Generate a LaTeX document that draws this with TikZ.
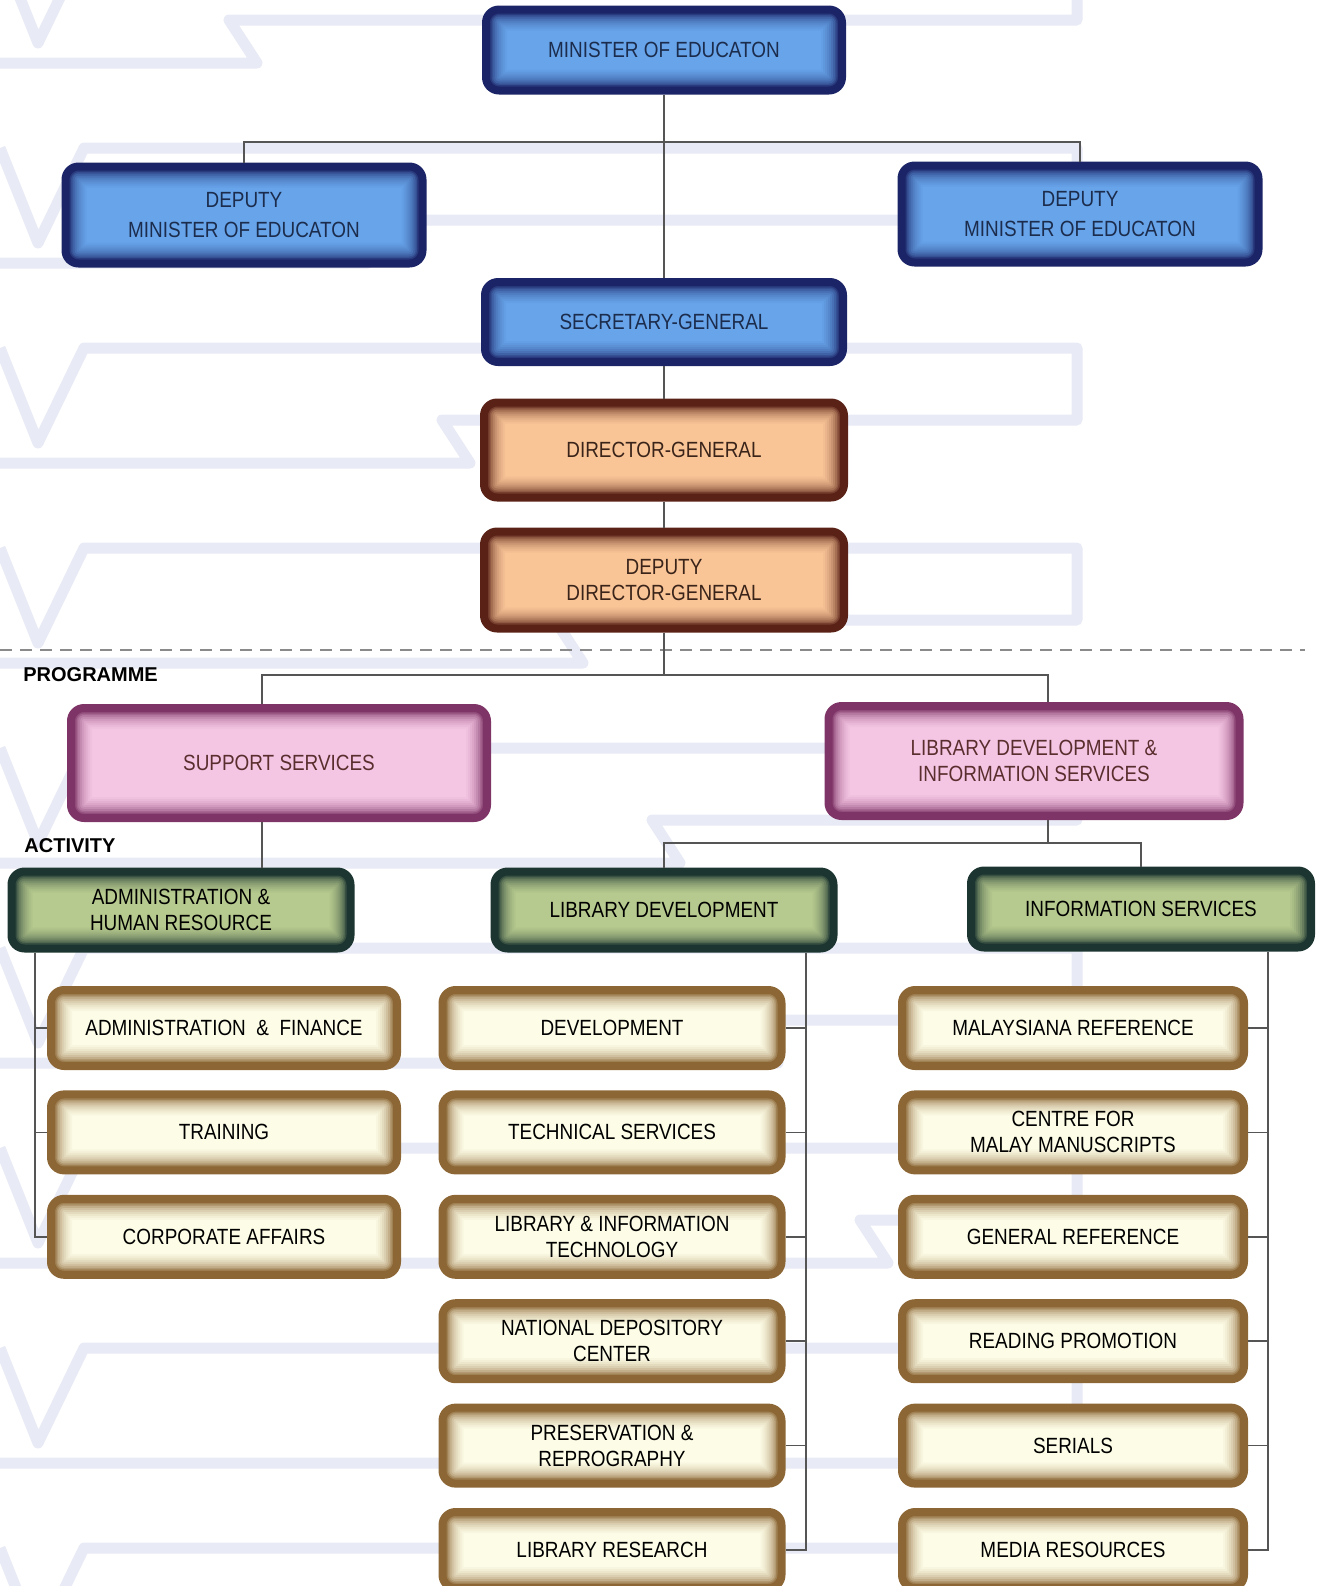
\documentclass[tikz,border=0pt]{standalone}
\usepackage{fontspec}
\setmainfont{Liberation Sans}[FakeStretch=0.86]
\newfontfamily\headfont{Liberation Sans}
\usepackage{xcolor}
\usepackage{tikz}
\usetikzlibrary{positioning}

\definecolor{bluedge}{HTML}{1B2466}
\definecolor{bluefill}{HTML}{67A4EA}
\definecolor{bluetext}{HTML}{1C2C4C}
\definecolor{orgedge}{HTML}{5A2217}
\definecolor{orgfill}{HTML}{F9C597}
\definecolor{orgtext}{HTML}{3A241A}
\definecolor{pinkedge}{HTML}{7E3466}
\definecolor{pinkfill}{HTML}{F5C6E4}
\definecolor{pinktext}{HTML}{5A2E2E}
\definecolor{grnedge}{HTML}{1C3530}
\definecolor{grnfill}{HTML}{B6C98E}
\definecolor{crmedge}{HTML}{8C6634}
\definecolor{crmfill}{HTML}{FDFCE6}
\definecolor{conngray}{HTML}{555555}
\definecolor{dashgray}{HTML}{8A8A8A}
\definecolor{wmblue}{HTML}{E8EAF5}

\begin{document}
\begin{tikzpicture}[x=0.5pt,y=-0.5pt,node distance=52.2pt,on grid,
    conn/.style={draw=conngray,line width=0.8pt},
    glowbox/.style n args={3}{rectangle,rounded corners=8pt,draw=#1,line width=1pt,
      fill=#2,text=#3,align=center,inner sep=0pt,
      font=\fontsize{11}{13}\selectfont,
      path picture={
        \foreach \w/\m in {24pt/4,22pt/9,20pt/15,18pt/22,16pt/30,14pt/40,12pt/52,10pt/66,8.5pt/82,7pt/100}
          \draw[draw=#1!\m!#2,line width=\w,rounded corners=8pt]
            (path picture bounding box.south west) rectangle (path picture bounding box.north east);}},
    minbox/.style={glowbox={bluedge}{bluefill}{bluetext}},
    dgbox/.style={glowbox={orgedge}{orgfill}{orgtext},minimum width=183pt},
    progbox/.style={glowbox={pinkedge}{pinkfill}{pinktext},minimum height=58pt},
    actbox/.style={glowbox={grnedge}{grnfill}{black},minimum width=172.5pt,minimum height=41.5pt},
    unitbox/.style={glowbox={crmedge}{crmfill}{black},minimum height=41pt},
    tag/.style={font=\headfont\bfseries\fontsize{10}{12}\selectfont,inner sep=0pt,anchor=base west},
    wm/.style={draw=wmblue,line width=5.5pt,line join=round}]
  \useasboundingbox (0,0) rectangle (1320,1586);
  \clip (0,0) rectangle (1320,1586);

  % watermark
  \foreach \y/\s in {-52/229,148/340,348/442,548/555,748/652,948/750,1148/860,1348/950,1548/1040}
    \draw[wm] (0,\y) -- (38,\y+95) -- (84,\y) -- (1077,\y) -- (1077,\y+72)
      -- (\s,\y+72) -- (\s+28,\y+115) -- (0,\y+115);

  % top levels
  \node[minbox,minimum width=181pt,minimum height=43.5pt] (min) at (664,50) {MINISTER OF EDUCATON};
  \node[minbox,minimum width=181.5pt,minimum height=51.5pt,font=\fontsize{11}{15}\selectfont]
    (depl) at (244,215) {DEPUTY\\MINISTER OF EDUCATON};
  \node[minbox,minimum width=181.5pt,minimum height=51.5pt,font=\fontsize{11}{15}\selectfont]
    (depr) at (1080,214) {DEPUTY\\MINISTER OF EDUCATON};
  \node[minbox,minimum width=182pt,minimum height=43pt] (secgen) at (664,322) {SECRETARY-GENERAL};
  \node[dgbox,minimum height=50.5pt] (dg) at (664,450) {DIRECTOR-GENERAL};
  \node[dgbox,minimum height=51.5pt] (ddg) at (664,580) {DEPUTY\\DIRECTOR-GENERAL};

  \draw[draw=dashgray,line width=0.8pt,dash pattern=on 6pt off 4pt] (0,650) -- (1305,650);
  \node[tag] (prog) at (23,681) {PROGRAMME};
  \node[tag] (act) at (24,852) {ACTIVITY};

  % programme and activity
  \node[progbox,minimum width=211pt] (supp) at (279,763) {SUPPORT SERVICES};
  \node[progbox,minimum width=208.5pt] (ldis) at (1034,761) {LIBRARY DEVELOPMENT \&\\INFORMATION SERVICES};
  \node[actbox] (ahr) at (181,910) {ADMINISTRATION \&\\HUMAN RESOURCE};
  \node[actbox] (libdev) at (664,910) {LIBRARY DEVELOPMENT};
  \node[actbox,minimum width=173pt] (infos) at (1141,909) {INFORMATION SERVICES};

  % units
  \node[unitbox,minimum width=176pt] (af) at (224,1028) {ADMINISTRATION \ \& \ FINANCE};
  \node[unitbox,minimum width=176pt] (train) [below=of af] {TRAINING};
  \node[unitbox,minimum width=176pt] (corp) [below=of train] {CORPORATE AFFAIRS};

  \node[unitbox,minimum width=172.5pt] (dev) at (612,1028) {DEVELOPMENT};
  \node[unitbox,minimum width=172.5pt] (tech) [below=of dev] {TECHNICAL SERVICES};
  \node[unitbox,minimum width=172.5pt] (lit) [below=of tech] {LIBRARY \& INFORMATION\\TECHNOLOGY};
  \node[unitbox,minimum width=172.5pt] (ndc) [below=of lit] {NATIONAL DEPOSITORY\\CENTER};
  \node[unitbox,minimum width=172.5pt] (pres) [below=of ndc] {PRESERVATION \&\\REPROGRAPHY};
  \node[unitbox,minimum width=172.5pt] (lres) [below=of pres] {LIBRARY RESEARCH};

  \node[unitbox,minimum width=174pt] (mref) at (1073,1028) {MALAYSIANA REFERENCE};
  \node[unitbox,minimum width=174pt] (cmm) [below=of mref] {CENTRE FOR\\MALAY MANUSCRIPTS};
  \node[unitbox,minimum width=174pt] (gref) [below=of cmm] {GENERAL REFERENCE};
  \node[unitbox,minimum width=174pt] (rprom) [below=of gref] {READING PROMOTION};
  \node[unitbox,minimum width=174pt] (ser) [below=of rprom] {SERIALS};
  \node[unitbox,minimum width=174pt] (media) [below=of ser] {MEDIA RESOURCES};

  % connectors
  \coordinate (dbar) at (664,142);
  \coordinate (pbar) at (664,675);
  \coordinate (abar) at (664,843);
  \coordinate (srail) at (262,0);
  \coordinate (ldrail) at (1048,0);
  \coordinate (lrail) at (35,0);
  \coordinate (mrail) at (806,0);
  \coordinate (rrail) at (1268,0);

  \draw[conn] (min) -- (secgen) (secgen) -- (dg) (dg) -- (ddg) (ddg) -- (pbar);
  \draw[conn] (depl) |- (dbar) -| (depr);
  \draw[conn] (srail |- supp.north) |- (pbar) -| (ldrail |- ldis.north);
  \draw[conn] (srail |- supp.south) -- (srail |- ahr.north);
  \draw[conn] (ldrail |- ldis.south) -- (ldrail |- abar);
  \draw[conn] (libdev) |- (abar) -| (infos);

  \draw[conn] (lrail |- ahr.south) |- (corp.west)
    (lrail |- af.west) -- (af.west)
    (lrail |- train.west) -- (train.west);
  \draw[conn] (mrail |- libdev.south) |- (lres.east)
    (dev.east) -- (mrail |- dev.east)
    (tech.east) -- (mrail |- tech.east)
    (lit.east) -- (mrail |- lit.east)
    (ndc.east) -- (mrail |- ndc.east)
    (pres.east) -- (mrail |- pres.east);
  \draw[conn] (rrail |- infos.south) |- (media.east)
    (mref.east) -- (rrail |- mref.east)
    (cmm.east) -- (rrail |- cmm.east)
    (gref.east) -- (rrail |- gref.east)
    (rprom.east) -- (rrail |- rprom.east)
    (ser.east) -- (rrail |- ser.east);
\end{tikzpicture}
\end{document}
